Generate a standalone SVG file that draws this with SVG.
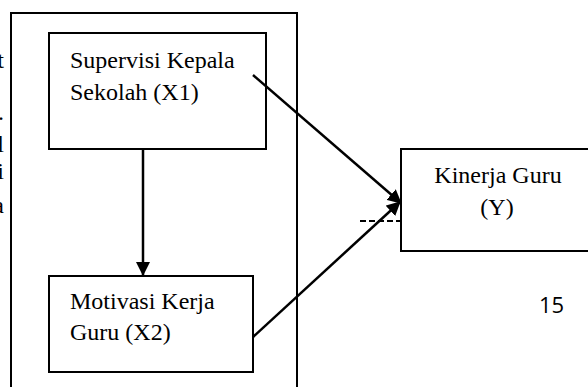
<svg xmlns="http://www.w3.org/2000/svg" width="588" height="387" viewBox="0 0 588 387">
<style>
.box{fill:#fff;stroke:#000;stroke-width:2}
.t{font-family:"Liberation Serif","Times New Roman",serif;font-size:24px;fill:#000}
.c{stroke:#000;stroke-width:2.5;fill:none}
</style>
<defs>
<marker id="ah" markerWidth="10" markerHeight="10" refX="9" refY="5" orient="auto" markerUnits="userSpaceOnUse" viewBox="0 0 10 10">
<path d="M0,0 L10,5 L0,10 z" fill="#000"/>
</marker>
<marker id="ah2" markerWidth="14" markerHeight="14" refX="13" refY="7" orient="auto" markerUnits="userSpaceOnUse" viewBox="0 0 14 14">
<path d="M0,0 L14,7 L0,14 z" fill="#000"/>
</marker>
</defs>
<rect width="588" height="387" fill="#fff"/>
<g id="fragments" class="t">
<text x="4" y="68" text-anchor="end">t</text>
<text x="4" y="120" text-anchor="end">.</text>
<text x="4" y="152" text-anchor="end">l</text>
<text x="4" y="179" text-anchor="end">i</text>
<text x="4" y="213" text-anchor="end">a</text>
</g>
<g id="outer">
<rect x="11" y="13" width="286" height="390" fill="none" stroke="#000" stroke-width="2"/>
</g>
<g id="x1">
<rect class="box" x="49" y="33" width="217" height="116"/>
<text class="t" x="70" y="68">Supervisi Kepala</text>
<text class="t" x="70" y="100">Sekolah (X1)</text>
</g>
<g id="x2">
<rect class="box" x="49" y="276" width="204" height="96"/>
<text class="t" x="70" y="309">Motivasi Kerja</text>
<text class="t" x="70" y="340">Guru (X2)</text>
</g>
<g id="y">
<rect class="box" x="401" y="149" width="200" height="102"/>
<text class="t" x="498" y="183" text-anchor="middle">Kinerja Guru</text>
<text class="t" x="497" y="215" text-anchor="middle">(Y)</text>
</g>
<g id="connectors">
<line class="c" x1="143" y1="149" x2="143" y2="275" marker-end="url(#ah2)"/>
<line class="c" x1="253" y1="75" x2="401" y2="203" marker-end="url(#ah2)"/>
<line class="c" x1="253" y1="337" x2="400" y2="202" marker-end="url(#ah2)"/>
<line x1="360" y1="221" x2="401" y2="221" stroke="#000" stroke-width="2" stroke-dasharray="6,3"/>
</g>
<text x="539" y="313" font-family="'Open Sans','Noto Sans',sans-serif" font-size="22" fill="#000">15</text>
</svg>
